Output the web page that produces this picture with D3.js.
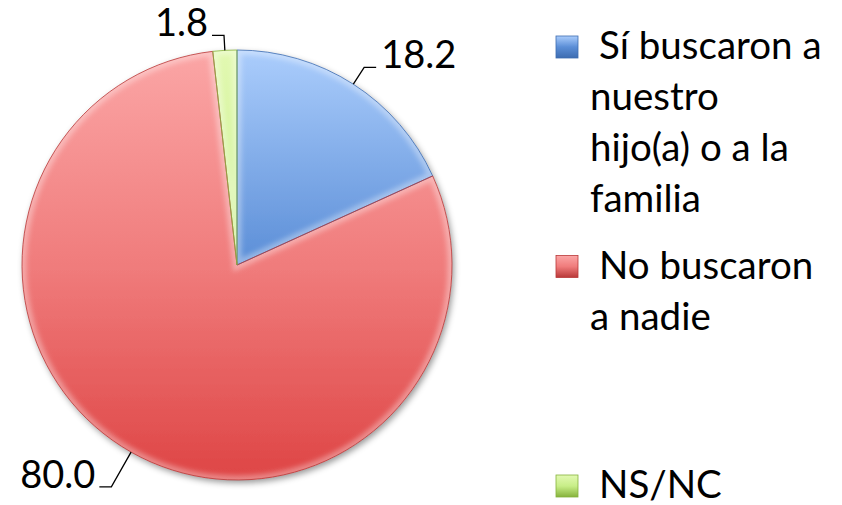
<!DOCTYPE html>
<html>
<head>
<meta charset="utf-8">
<script src="https://cdn.jsdelivr.net/npm/d3@7/dist/d3.min.js"></script>
<style>
  html, body { margin: 0; padding: 0; background: #fff; }
  svg { display: block; font-family: Lato, "Open Sans", sans-serif; }
</style>
</head>
<body>
<svg id="chart" width="842" height="505"></svg>
<script>

// legend categories, already broken into the lines shown in the legend
const categories = [
  ['Sí buscaron a', 'nuestro', 'hijo(a) o a la', 'familia'],
  ['No buscaron', 'a nadie'],
  ['NS/NC']
];

const values = [18.2, 80.0, 1.8];

const valueLabels = ['18.2', '80.0', '1.8'];


/**
 * @private
 * @class
 */
class PieChart {


  /**
   * @public
   * @constructor
   * @param {SVGElement} svg
   */
  constructor(svg) {

    this._svg = d3.select(svg);

    this._cx = 237;
    this._cy = 265;
    this._r = 215;

    // fill gradients: [top, middle, bottom], edge colour
    this._palette = [
      { stops: ['#abcdfc', '#5b8ed7', '#3f6fb8'], edge: '#3d6cb0' },
      { stops: ['#fba6a6', '#f07c7c', '#de4545'], edge: '#b83838' },
      { stops: ['#e2f9b2', '#c8ee88', '#9cc850'], edge: '#86b23c' }
    ];

    // how far the leader line leaves the rim before turning
    this._leaderOut = [20, 40, 15];
    this._leaderFlat = 12;
  }


  /**
   * Render chart.
   * @public
   * @returns {PieChart}
   */
  render() {

    this._renderDefs();
    this._renderPie();
    this._renderLabels();
    this._renderLegend();

    return this;
  }


  /**
   * @private
   */
  _renderDefs() {

    const defs = this._svg.append('defs');

    defs.append('filter')
      .attr('id', 'shadow')
      .attr('x', '-10%').attr('y', '-10%')
      .attr('width', '125%').attr('height', '125%')
      .append('feDropShadow')
      .attr('dx', 2)
      .attr('dy', 3)
      .attr('stdDeviation', 3)
      .attr('flood-color', '#000')
      .attr('flood-opacity', 0.4);

    defs.append('filter')
      .attr('id', 'soft')
      .append('feGaussianBlur')
      .attr('stdDeviation', 2.5);

    this._palette.forEach((p, i) => {

      // pie paths live in a group centred on the pie, so gradient runs -r..r
      const g = defs.append('linearGradient')
        .attr('id', 'fill' + i)
        .attr('gradientUnits', 'userSpaceOnUse')
        .attr('x1', 0).attr('x2', 0)
        .attr('y1', -this._r)
        .attr('y2', this._r);

      g.selectAll('stop')
        .data(p.stops)
        .join('stop')
        .attr('offset', (d, j) => j / 2)
        .attr('stop-color', d => d);

      const lg = defs.append('linearGradient')
        .attr('id', 'legend' + i)
        .attr('x1', 0).attr('x2', 0)
        .attr('y1', 0).attr('y2', 1);

      lg.selectAll('stop')
        .data([p.stops[0], p.stops[1], p.edge])
        .join('stop')
        .attr('offset', (d, j) => j / 2)
        .attr('stop-color', d => d);
    });
  }


  /**
   * @private
   */
  _renderPie() {

    this._arcs = d3.pie()
      .sort(null)
      .value(d => d)(values);

    this._arc = d3.arc()
      .innerRadius(0)
      .outerRadius(this._r);

    const defs = this._svg.select('defs');

    this._arcs.forEach((a, i) => {

      defs.append('clipPath')
        .attr('id', 'clip' + i)
        .append('path')
        .attr('d', this._arc(a));
    });

    const pie = this._svg.append('g')
      .attr('transform', `translate(${this._cx},${this._cy})`);

    pie.append('g')
      .attr('filter', 'url(#shadow)')
      .selectAll('path.slice')
      .data(this._arcs)
      .join('path')
      .attr('class', 'slice')
      .attr('d', this._arc)
      .attr('fill', (d, i) => `url(#fill${i})`);

    // soft bevel along the slice edges
    pie.selectAll('g.bevel')
      .data(this._arcs)
      .join('g')
      .attr('class', 'bevel')
      .attr('clip-path', (d, i) => `url(#clip${i})`)
      .append('path')
      .attr('d', this._arc)
      .attr('fill', 'none')
      .attr('stroke', '#fff')
      .attr('stroke-opacity', 0.35)
      .attr('stroke-width', 9)
      .attr('filter', 'url(#soft)');

    pie.selectAll('path.edge')
      .data(this._arcs)
      .join('path')
      .attr('class', 'edge')
      .attr('d', this._arc)
      .attr('fill', 'none')
      .attr('stroke', (d, i) => this._palette[i].edge)
      .attr('stroke-width', 0.8)
      .attr('stroke-linejoin', 'round');

    this._pie = pie;
  }


  /**
   * Point at a given radius along the middle of a slice.
   * @private
   * @param {Object} a
   * @param {Number} r
   * @returns {Array}
   */
  _pointAt(a, r) {

    const m = (a.startAngle + a.endAngle) / 2;

    return [r * Math.sin(m), -r * Math.cos(m)];
  }


  /**
   * @private
   */
  _renderLabels() {

    const labels = this._pie.selectAll('g.label')
      .data(this._arcs)
      .join('g')
      .attr('class', 'label');

    labels.each((a, i, nodes) => {

      const g = d3.select(nodes[i]);
      const p0 = this._pointAt(a, this._r);
      const p1 = this._pointAt(a, this._r + this._leaderOut[i]);
      const right = p1[0] > 0;
      const p2 = [p1[0] + (right ? 1 : -1) * this._leaderFlat, p1[1]];

      g.append('path')
        .attr('d', d3.line()([p0, p1, p2]))
        .attr('fill', 'none')
        .attr('stroke', '#000')
        .attr('stroke-width', 1.3);

      g.append('text')
        .attr('x', p2[0] + (right ? 5 : -4))
        .attr('y', p2[1] + 1)
        .attr('text-anchor', right ? 'start' : 'end')
        .attr('font-size', 38)
        .attr('fill', '#000')
        .text(valueLabels[i]);
    });
  }


  /**
   * @private
   */
  _renderLegend() {

    const x = 556;
    const top = 59;
    const step = 219.5;
    const lineH = 51;
    const box = 22;

    const items = this._svg.append('g')
      .attr('class', 'legend')
      .selectAll('g')
      .data(categories)
      .join('g')
      .attr('transform', (d, i) => `translate(${x},${top + i * step})`);

    items.append('rect')
      .attr('x', 0)
      .attr('y', -box - 1)
      .attr('width', box)
      .attr('height', box)
      .attr('fill', (d, i) => `url(#legend${i})`)
      .attr('stroke', (d, i) => this._palette[i].edge)
      .attr('stroke-width', 0.8);

    items.append('text')
      .attr('font-size', 38.5)
      .attr('fill', '#000')
      .selectAll('tspan')
      .data(d => d)
      .join('tspan')
      .attr('x', (d, j) => j === 0 ? 43 : 34)
      .attr('y', (d, j) => j * lineH)
      .text(d => d);
  }
}


new PieChart(document.getElementById('chart')).render();

</script>
</body>
</html>
